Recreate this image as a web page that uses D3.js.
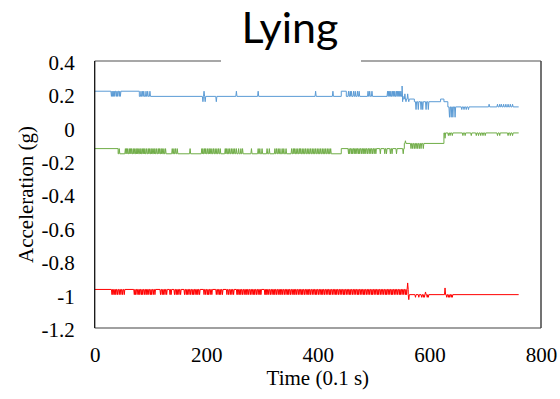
<!DOCTYPE html>
<html>
<head>
<meta charset="utf-8">
<script src="https://cdn.jsdelivr.net/npm/d3@7"></script>
<style>
  body { margin: 0; background: #fff; }
  .serif { font-family: "Liberation Serif", "Times New Roman", serif; font-size: 21px; fill: #000; }
</style>
</head>
<body>
<svg id="chart" width="560" height="399"></svg>
<script>
// ---- data (time in 0.1 s, acceleration in g) ----
const endTime = 760;

const xTicks = [0, 200, 400, 600, 800];
const yTicks = [0.4, 0.2, 0, -0.2, -0.4, -0.6, -0.8, -1, -1.2];
const yTickLabels = ["0.4", "0.2", "0", "-0.2", "-0.4", "-0.6", "-0.8", "-1", "-1.2"];

// blue trace: base level changes
const blueStepT = [0, 80, 442, 451, 553, 573, 620, 626, 633];
const blueStepV = [0.219, 0.188, 0.219, 0.188, 0.172, 0.156, 0.172, 0.156, 0.125];
// blue trace: single-sample excursions [level, times]
const blueSpikes = [
  [0.188, [30, 32, 34, 36, 39, 41, 44, 46]],
  [0.219, [83, 86, 88, 92, 95, 99, 196, 254, 293, 396, 427]],
  [0.156, [194, 198, 218, 552, 558, 563]],
  [0.219, [455, 458, 460, 464, 467, 471, 474, 490, 493, 497]],
  [0.219, [525, 527, 529, 531, 534, 536, 538, 541, 543, 545, 547, 549]],
  [0.250, [551]],
  [0.203, [556, 561]],
  [0.109, [576, 580, 585, 588, 594, 598]],
  [0.063, [636, 639, 642, 646]],
  [0.109, [658, 662, 666, 670]],
  [0.141, [707, 722, 726, 729, 733, 737, 741, 745, 749]]
];

// green trace
const greenStepT = [0, 42, 442, 555, 626];
const greenStepV = [-0.125, -0.156, -0.125, -0.094, -0.031];
const greenSpikes = [
  [-0.125, [44, 55, 57, 59, 62, 64, 66, 69, 71, 74, 76, 78, 81, 83, 86, 88, 90, 93, 96, 98,
            101, 103, 106, 108, 111, 114, 116, 119, 121, 124, 127, 139, 142, 145, 148, 171]],
  [-0.125, [192, 194, 197, 199, 202, 205, 207, 210, 213, 216, 219, 222, 225,
            234, 236, 239, 242, 245, 248, 251, 254, 258, 262, 265, 281, 293, 296, 300, 309, 313,
            323, 326, 329, 332, 336, 339, 343]],
  [-0.125, [353, 356, 358, 361, 364, 367, 369, 372, 375, 378, 381, 384, 387, 390, 393, 396,
            399, 402, 405, 408, 411, 414, 417, 420, 423]],
  [-0.156, [455, 457, 460, 462, 465, 467, 470, 473, 475, 478, 481, 483, 486, 489, 492, 495,
            498, 501, 504, 512, 520, 523, 530, 533, 541, 553]],
  [-0.078, [557]],
  [-0.125, [567, 570, 573, 576, 579, 582, 585, 589]],
  [-0.063, [628]],
  [-0.047, [634, 637, 641, 660, 664, 675, 684, 688, 692, 696, 700, 722, 726, 741, 745, 749]]
];

// red trace
const redStepT = [0, 562];
const redStepV = [-0.969, -1.0];
const redSpikes = [
  [-1.0, [31, 33, 36, 38, 41, 44, 47, 50, 53]],
  [-1.0, [71, 73, 76, 79, 81, 84, 86, 89, 92, 94, 97, 100, 102, 105, 108, 118, 121, 123, 126, 129,
          135, 137, 143, 146, 148, 151, 154, 161, 164, 166, 169, 172, 175, 177, 180, 183, 185, 188,
          196, 199, 202, 204, 207, 210, 218, 221, 224, 226, 229, 237, 240, 243, 246, 249, 255, 257,
          260, 262, 265, 268, 271, 273, 276, 279, 282, 285, 287, 290, 293, 296, 298, 305, 307, 309,
          312, 315, 318, 321, 323, 326, 329, 332, 334, 337, 340, 343, 346, 348, 351, 354, 357, 359]],
  [-1.0, [362, 365, 368, 371, 373, 376, 379, 382, 384, 387, 390, 393, 396, 398, 401, 404, 407, 409,
          412, 415, 418, 421, 423, 426, 429, 432, 434, 437, 440, 443, 446, 448, 451, 454, 457, 459,
          462, 465, 468, 471, 473, 476, 479, 482, 484, 487, 490, 493, 496, 498, 501, 504, 507, 509,
          512, 515, 518, 521, 523, 526, 529, 532, 534, 537, 540, 543, 546, 548, 551, 554, 557, 559]],
  [-0.930, [561]],
  [-1.030, [563]],
  [-1.016, [575, 581, 586, 589, 591, 596, 598, 631, 634, 636, 639, 641]],
  [-0.984, [593]],
  [-0.960, [628]]
];

// ---- chart ----
const svg = d3.select("#chart");
const margin = { top: 61, right: 19, bottom: 71, left: 94.7 };
const W = 560, H = 399;

const x = d3.scaleLinear().domain([0, 800]).range([margin.left, W - margin.right]);
const y = d3.scaleLinear().domain([-1.2, 0.4]).range([H - margin.bottom, margin.top]);

// turn step levels + single-sample excursions into vertices for the line
function buildSeries(stepT, stepV, spikes) {
  const baseAt = t => {
    let v = stepV[0];
    for (let i = 0; i < stepT.length; i++) if (stepT[i] <= t) v = stepV[i];
    return v;
  };
  const pts = [];
  stepT.forEach((t, i) => {
    if (i > 0) pts.push([t, stepV[i - 1]]);
    pts.push([t, stepV[i]]);
  });
  spikes.forEach(([v, times]) => {
    times.forEach(s => {
      pts.push([s - 1, baseAt(s - 1)]);
      pts.push([s, v]);
      pts.push([s + 1, baseAt(s + 1)]);
    });
  });
  pts.push([endTime, baseAt(endTime)]);
  return pts.map((p, i) => ({ t: p[0], v: p[1], k: i }))
    .sort((a, b) => a.t - b.t || a.k - b.k);
}

const series = [
  { color: "#ff0000", data: buildSeries(redStepT, redStepV, redSpikes) },
  { color: "#70ad47", data: buildSeries(greenStepT, greenStepV, greenSpikes) },
  { color: "#5b9bd5", data: buildSeries(blueStepT, blueStepV, blueSpikes) }
];

const line = d3.line()
  .x(d => x(d.t))
  .y(d => y(d.v));

series.forEach(s => {
  svg.append("path")
    .datum(s.data)
    .attr("fill", "none")
    .attr("stroke", s.color)
    .attr("stroke-width", 1)
    .attr("d", line);
});

// frame
const x0 = x(0), x1 = x(800), y0 = y(0.4), y1 = y(-1.2);
svg.append("line").attr("x1", x0).attr("x2", x1).attr("y1", y0).attr("y2", y0)
  .attr("stroke", "#8a8a8a").attr("stroke-width", 1.5);
svg.append("line").attr("x1", x0).attr("x2", x1).attr("y1", y1).attr("y2", y1)
  .attr("stroke", "#808080").attr("stroke-width", 1.5);
svg.append("line").attr("x1", x1).attr("x2", x1).attr("y1", y0).attr("y2", y1)
  .attr("stroke", "#444").attr("stroke-width", 1.5);
svg.append("line").attr("x1", x0).attr("x2", x0).attr("y1", y0).attr("y2", y1)
  .attr("stroke", "#111").attr("stroke-width", 1.3);

// axes (labels only)
const yAxis = svg.append("g")
  .attr("transform", "translate(" + x0 + ",0)")
  .call(d3.axisLeft(y).tickValues(yTicks).tickSize(0).tickPadding(20)
    .tickFormat((d, i) => yTickLabels[i]));
yAxis.attr("font-family", null).attr("font-size", null);
yAxis.select(".domain").remove();
yAxis.selectAll("text")
  .attr("class", "serif")
  .attr("dy", "0.4em");

const xAxis = svg.append("g")
  .attr("transform", "translate(0," + y1 + ")")
  .call(d3.axisBottom(x).tickValues(xTicks).tickSize(0).tickPadding(19)
    .tickFormat(d3.format("d")));
xAxis.attr("font-family", null).attr("font-size", null);
xAxis.select(".domain").remove();
xAxis.selectAll("text")
  .attr("class", "serif");

// axis titles
svg.append("text")
  .attr("class", "serif")
  .attr("x", (x0 + x1) / 2)
  .attr("y", 385)
  .style("text-anchor", "middle")
  .text("Time (0.1 s)");

svg.append("text")
  .attr("class", "serif")
  .attr("transform", "translate(33," + ((y0 + y1) / 2) + ") rotate(-90)")
  .style("text-anchor", "middle")
  .text("Acceleration (g)");

// chart title sits on a white box that breaks the top border
svg.append("rect")
  .attr("x", 221).attr("y", 50).attr("width", 140).attr("height", 20)
  .attr("fill", "#fff");
svg.append("text")
  .attr("x", 290)
  .attr("y", 43)
  .style("text-anchor", "middle")
  .style("font-family", "Lato, 'Open Sans', sans-serif")
  .style("font-size", "43px")
  .text("Lying");
</script>
</body>
</html>
